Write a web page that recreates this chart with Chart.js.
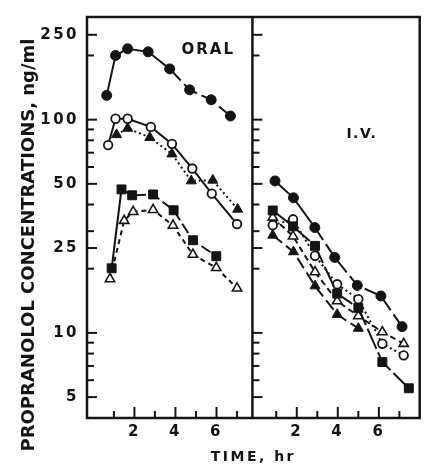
<!DOCTYPE html>
<html>
<head>
<meta charset="utf-8">
<title>Propranolol concentrations</title>
<script src="https://cdn.jsdelivr.net/npm/chart.js@4.4.1/dist/chart.umd.min.js"></script>
<style>
  html, body { margin: 0; padding: 0; background: #fff; }
  canvas { display: block; }
</style>
</head>
<body>
<canvas id="chart" width="427" height="468"></canvas>
<script>
// Plasma propranolol (ng/ml) against time (hr) in five subjects,
// after an oral dose (left panel) and an intravenous dose (right panel).

// ---- ORAL ----
const oralFilledCircleT = [0.65, 1.08, 1.67, 2.67, 3.72, 4.69, 5.74, 6.68];
const oralFilledCircleC = [130, 200, 215, 208, 173, 138, 124, 104];
const oralOpenCircleT = [0.72, 1.08, 1.67, 2.80, 3.83, 4.82, 5.77, 7.00];
const oralOpenCircleC = [76, 101, 101, 92.5, 77, 59, 45, 32.4];
const oralFilledTriangleT = [1.13, 1.67, 2.75, 3.83, 4.77, 5.82, 7.03];
const oralFilledTriangleC = [85, 91, 82.5, 69, 51.6, 52, 38];
const oralSquareT = [0.89, 1.37, 1.89, 2.91, 3.91, 4.85, 5.99];
const oralSquareC = [20.1, 47.1, 44.2, 44.6, 37.6, 27.2, 22.9];
const oralOpenTriangleT = [0.81, 1.50, 1.94, 2.91, 3.88, 4.85, 5.99, 7.00];
const oralOpenTriangleC = [17.9, 33.6, 37.0, 37.8, 31.9, 23.3, 20.2, 16.2];

// ---- I.V. ----
const ivFilledCircleT = [0.94, 1.84, 2.88, 3.85, 4.95, 6.10, 7.13];
const ivFilledCircleC = [51.6, 43.0, 31.2, 22.6, 16.7, 14.9, 10.7];
const ivSquareT = [0.83, 1.82, 2.89, 3.97, 5.00, 6.17, 7.46];
const ivSquareC = [37.5, 31.6, 25.6, 15.3, 13.1, 7.3, 5.5];
const ivOpenCircleT = [0.83, 1.82, 2.89, 3.97, 5.00, 6.17, 7.21];
const ivOpenCircleC = [32.0, 34.1, 23.0, 16.9, 14.4, 8.9, 7.85];
const ivOpenTriangleT = [0.83, 1.82, 2.89, 3.97, 5.00, 6.17, 7.21];
const ivOpenTriangleC = [34.8, 28.4, 19.3, 14.1, 12.0, 10.1, 8.9];
const ivFilledTriangleT = [0.83, 1.84, 2.89, 3.97, 5.00];
const ivFilledTriangleC = [28.7, 24.0, 16.6, 12.2, 10.5];

// ---- axes ----
const yTickLabels = [5, 10, 25, 50, 100, 250];
const yMinorTicks = [6, 7, 8, 9, 20, 30, 40, 60, 70, 80, 90, 200];
const xTickLabels = [2, 4, 6];
const xTickHours = [1, 2, 3, 4, 5, 6, 7];
const panelNames = ['ORAL', 'I.V.'];

// Both panels share one time axis; the I.V. panel sits IV_SHIFT hours to the right.
const X_MIN = -0.31, X_MAX = 15.9, DIVIDER = 7.75, IV_SHIFT = 7.91;
const Y_MIN = 3.99, Y_MAX = 303;

const INK = '#141414';
const FONT = 'DejaVu Sans';

const pts = (ts, cs, shift) => ts.map((t, i) => ({ x: t + shift, y: cs[i] }));

const solidFirst = (n, dash) => ({
  borderDash: c => (c.p0DataIndex < n ? [] : dash)
});

const marker = {
  filledCircle: { pointStyle: 'circle', pointRadius: 5, pointBackgroundColor: INK, pointBorderWidth: 1 },
  openCircle: { pointStyle: 'circle', pointRadius: 4.3, pointBackgroundColor: '#fff', pointBorderWidth: 1.8 },
  square: { pointStyle: 'rect', pointRadius: 6.3, pointBackgroundColor: INK, pointBorderWidth: 1 },
  filledTriangle: { pointStyle: 'triangle', pointRadius: 5.8, pointBackgroundColor: INK, pointBorderWidth: 1 },
  openTriangle: { pointStyle: 'triangle', pointRadius: 5.4, pointBackgroundColor: '#fff', pointBorderWidth: 1.6 }
};

function series(label, data, mk, dash, segment) {
  return Object.assign({
    label, data,
    borderColor: INK,
    pointBorderColor: INK,
    borderWidth: 2,
    borderDash: dash,
    tension: 0,
    fill: false,
    segment: segment || {}
  }, mk);
}

const datasets = [
  series('Oral ●', pts(oralFilledCircleT, oralFilledCircleC, 0), marker.filledCircle, [16, 5], solidFirst(4, [16, 5])),
  series('Oral ○', pts(oralOpenCircleT, oralOpenCircleC, 0), marker.openCircle, []),
  series('Oral ▲', pts(oralFilledTriangleT, oralFilledTriangleC, 0), marker.filledTriangle, [2, 3]),
  series('Oral ■', pts(oralSquareT, oralSquareC, 0), marker.square, [11, 4], solidFirst(1, [11, 4])),
  series('Oral △', pts(oralOpenTriangleT, oralOpenTriangleC, 0), marker.openTriangle, [5, 4]),
  series('I.V. ●', pts(ivFilledCircleT, ivFilledCircleC, IV_SHIFT), marker.filledCircle, [15, 5], solidFirst(2, [15, 5])),
  series('I.V. ■', pts(ivSquareT, ivSquareC, IV_SHIFT), marker.square, [22, 4]),
  series('I.V. ○', pts(ivOpenCircleT, ivOpenCircleC, IV_SHIFT), marker.openCircle, [2, 3]),
  series('I.V. △', pts(ivOpenTriangleT, ivOpenTriangleC, IV_SHIFT), marker.openTriangle, [6, 4]),
  series('I.V. ▲', pts(ivFilledTriangleT, ivFilledTriangleC, IV_SHIFT), marker.filledTriangle, [12, 5])
];

// Panel frame, divider, inward tick marks and free text.
const panelDecor = {
  id: 'panelDecor',
  beforeUpdate(chart) { chart.ctx.letterSpacing = '2.5px'; },
  beforeDraw(chart) { chart.ctx.letterSpacing = '2.5px'; },
  afterDraw(chart, args, opts) {
    const { ctx, chartArea: a, scales: { x, y } } = chart;
    const seg = (x1, y1, x2, y2) => { ctx.beginPath(); ctx.moveTo(x1, y1); ctx.lineTo(x2, y2); ctx.stroke(); };
    ctx.save();
    ctx.strokeStyle = INK;
    ctx.lineCap = 'butt';
    ctx.setLineDash([]);

    ctx.lineWidth = 2.5;
    ctx.strokeRect(a.left, a.top, a.right - a.left, a.bottom - a.top);
    const xd = x.getPixelForValue(DIVIDER);
    seg(xd, a.top, xd, a.bottom);

    ctx.lineWidth = 2;
    for (const edge of [a.left, xd]) {
      for (const v of yTickLabels) { const py = y.getPixelForValue(v); seg(edge, py, edge + 10, py); }
      for (const v of yMinorTicks) { const py = y.getPixelForValue(v); seg(edge, py, edge + 7, py); }
    }
    for (const shift of [0, IV_SHIFT]) {
      for (const t of xTickHours) {
        const px = x.getPixelForValue(t + shift);
        seg(px, a.bottom, px, a.bottom - (t % 2 === 0 ? 11 : 7));
      }
    }

    ctx.fillStyle = INK;
    ctx.textAlign = 'center';
    ctx.textBaseline = 'middle';
    for (const p of opts.panels) {
      ctx.font = 'bold ' + p.size + 'px "' + FONT + '"';
      ctx.letterSpacing = p.spacing;
      ctx.fillText(p.text, x.getPixelForValue(p.x), y.getPixelForValue(p.y));
    }

    const t = opts.yTitle;
    ctx.translate(t.x, t.y);
    ctx.rotate(-Math.PI / 2);
    ctx.font = 'bold ' + t.size + 'px "' + FONT + '"';
    ctx.letterSpacing = '0px';
    ctx.fillText(t.text, 0, 0);
    ctx.restore();
  }
};

new Chart(document.getElementById('chart'), {
  type: 'line',
  data: { datasets },
  plugins: [panelDecor],
  options: {
    responsive: false,
    animation: false,
    events: [],
    layout: { padding: { left: 0, right: 6, top: 12, bottom: 0 } },
    plugins: {
      legend: { display: false },
      tooltip: { enabled: false },
      panelDecor: {
        panels: [
          { text: panelNames[0], x: 5.6, y: 211, size: 15, spacing: '2px' },
          { text: panelNames[1], x: 5.17 + IV_SHIFT, y: 85.7, size: 14, spacing: '1.5px' }
        ],
        yTitle: { text: 'PROPRANOLOL CONCENTRATIONS, ng/ml', x: 29, y: 245, size: 18 }
      }
    },
    scales: {
      x: {
        type: 'linear',
        min: X_MIN,
        max: X_MAX,
        grid: { display: false, drawTicks: false },
        border: { display: false },
        afterFit: s => { s.height = 50; },
        afterBuildTicks: s => {
          s.ticks = xTickLabels.concat(xTickLabels.map(v => v + IV_SHIFT)).map(v => ({ value: v }));
        },
        ticks: {
          autoSkip: false,
          maxRotation: 0,
          padding: 5,
          color: INK,
          font: { family: FONT, weight: 'bold', size: 15 },
          callback: v => String(Math.round(v > DIVIDER ? v - IV_SHIFT : v))
        },
        title: {
          display: true,
          text: 'TIME, hr',
          color: INK,
          font: { family: FONT, weight: 'bold', size: 14 },
          padding: { top: 0, bottom: 2.5 }
        }
      },
      y: {
        type: 'logarithmic',
        min: Y_MIN,
        max: Y_MAX,
        grid: { display: false, drawTicks: false },
        border: { display: false },
        afterFit: s => { s.width = 87; },
        afterBuildTicks: s => { s.ticks = yTickLabels.map(v => ({ value: v })); },
        ticks: {
          autoSkip: false,
          padding: 8,
          color: INK,
          font: { family: FONT, weight: 'bold', size: 15 },
          callback: v => String(v)
        }
      }
    }
  }
});
</script>
</body>
</html>
